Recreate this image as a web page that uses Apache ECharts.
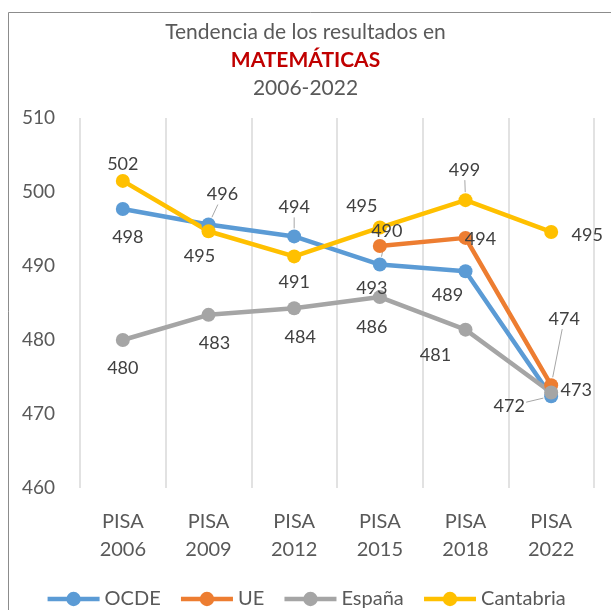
<!DOCTYPE html>
<html>
<head>
<meta charset="utf-8">
<script src="https://cdn.jsdelivr.net/npm/echarts@6/dist/echarts.min.js"></script>
<style>
  html, body { margin: 0; padding: 0; background: #fff; }
  #chart { width: 611px; height: 610px; }
</style>
</head>
<body>
<div id="chart"></div>
<script>
// datos
var categorias = ["PISA\n2006", "PISA\n2009", "PISA\n2012", "PISA\n2015", "PISA\n2018", "PISA\n2022"];
var ocde = [497.7, 495.6, 494.0, 490.2, 489.3, 472.4];
var ue = [null, null, null, 492.7, 493.8, 473.9];
var espana = [480.0, 483.4, 484.3, 485.8, 481.4, 472.9];
var cantabria = [501.5, 494.7, 491.3, 495.2, 498.9, 494.6];

// posicion de las etiquetas (desplazamiento respecto al punto, px)
var posOcde = [[5, 28], [14, -30], [0, -29], [7, -33], [-18, 24], [-42, 10]];
var posUe = [[0, 0], [0, 0], [0, 0], [-8, 42], [15, 1], [13, -66]];
var posEspana = [[0, 28], [6, 28], [6, 29], [-8, 30], [-30, 26], [25, -2]];
var posCantabria = [[0, -17], [-9, 25], [0, 26], [-18, -21], [-1, -30], [36, 3]];
// etiquetas con linea guia (indice de categoria)
var guiaOcde = [1, 2, 3, 5];
var guiaUe = [5];
var guiaCantabria = [4];

var fuente = "Lato";

function puntos(valores, pos) {
  return valores.map(function (v, i) {
    if (v == null) return null;
    return { value: v, label: { offset: pos[i] } };
  });
}

function serie(nombre, color, valores, pos) {
  return {
    name: nombre,
    type: "line",
    z: 3,
    data: puntos(valores, pos),
    symbol: "circle",
    symbolSize: 14,
    lineStyle: { color: color, width: 4.5 },
    itemStyle: { color: color },
    label: {
      show: true,
      position: "inside",
      fontFamily: fuente,
      fontSize: 18,
      color: "#404040",
      formatter: function (p) { return Math.round(p.value); }
    }
  };
}

// datos de las lineas guia: [categoria, valor, dx, dy]
var guias = [];
[[ocde, posOcde, guiaOcde], [ue, posUe, guiaUe], [cantabria, posCantabria, guiaCantabria]].forEach(function (g) {
  g[2].forEach(function (i) {
    guias.push([i, g[0][i], g[1][i][0], g[1][i][1]]);
  });
});

var myChart = echarts.init(document.getElementById("chart"));
myChart.setOption({
  animation: false,
  textStyle: { fontFamily: fuente },
  title: {
    left: "center",
    top: 13,
    text: "{a|Tendencia de los resultados en}\n{b|MATEMÁTICAS}\n{a|2006-2022}",
    textStyle: {
      rich: {
        a: { fontFamily: fuente, fontSize: 21, fontWeight: "normal", color: "#595959", lineHeight: 28 },
        b: { fontFamily: fuente, fontSize: 21, fontWeight: "bold", color: "#C00000", lineHeight: 28 }
      }
    }
  },
  graphic: [
    {
      type: "rect",
      shape: { x: 8.5, y: 12.5, width: 700, height: 700 },
      style: { fill: "none", stroke: "#8C8C8C", lineWidth: 1 },
      silent: true
    }
  ],
  legend: {
    top: 584,
    left: "center",
    itemWidth: 52,
    itemHeight: 18,
    itemGap: 18,
    lineStyle: { width: 4.5 },
    textStyle: { fontFamily: fuente, fontSize: 20, color: "#595959" },
    data: ["OCDE", "UE", "España", "Cantabria"]
  },
  grid: { left: 80, right: 17, top: 118, bottom: 122, containLabel: false },
  xAxis: {
    type: "category",
    data: categorias,
    boundaryGap: true,
    axisLine: { show: false },
    axisTick: { show: false },
    splitLine: { show: true, lineStyle: { color: "#D9D9D9", width: 1.5 } },
    axisLabel: { margin: 20, fontFamily: fuente, fontSize: 20, color: "#595959", lineHeight: 28 }
  },
  yAxis: {
    type: "value",
    min: 460,
    max: 510,
    interval: 10,
    axisLine: { show: false },
    axisTick: { show: false },
    splitLine: { show: false },
    axisLabel: { margin: 25, fontFamily: fuente, fontSize: 19, color: "#595959" }
  },
  series: [
    {
      type: "custom",
      name: "guias",
      z: 2,
      silent: true,
      data: guias,
      encode: { x: 0, y: 1 },
      renderItem: function (params, api) {
        var p = api.coord([api.value(0), api.value(1)]);
        var dx = api.value(2), dy = api.value(3);
        var len = Math.sqrt(dx * dx + dy * dy);
        var t = Math.min(17 / Math.max(Math.abs(dx), 0.001), 10 / Math.max(Math.abs(dy), 0.001));
        return {
          type: "line",
          shape: {
            x1: p[0] + dx / len * 8, y1: p[1] + dy / len * 8,
            x2: p[0] + dx * (1 - t), y2: p[1] + dy * (1 - t)
          },
          style: { stroke: "#A6A6A6", lineWidth: 1 }
        };
      }
    },
    serie("OCDE", "#5B9BD5", ocde, posOcde),
    serie("UE", "#ED7D31", ue, posUe),
    serie("España", "#A5A5A5", espana, posEspana),
    serie("Cantabria", "#FFC000", cantabria, posCantabria)
  ]
});
</script>
</body>
</html>
